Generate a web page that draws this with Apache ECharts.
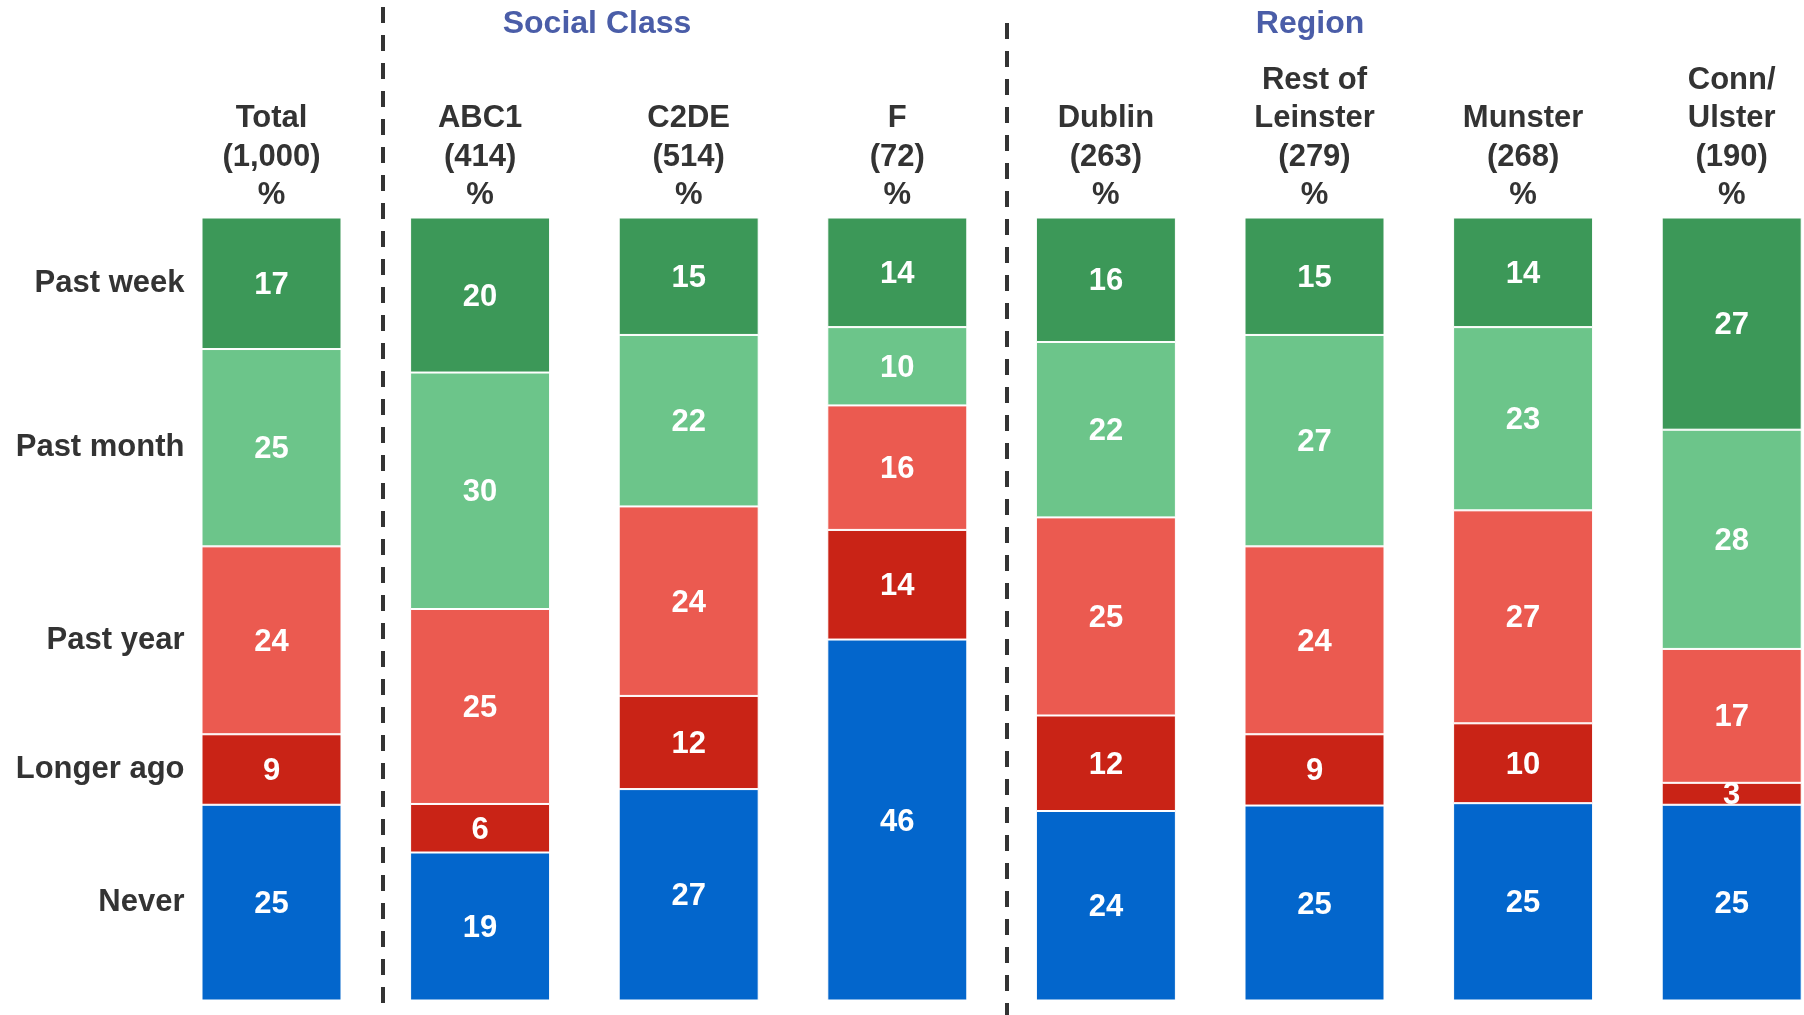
<!DOCTYPE html>
<html>
<head>
<meta charset="utf-8">
<script src="https://cdn.jsdelivr.net/npm/echarts@6/dist/echarts.min.js"></script>
<style>
html,body{margin:0;padding:0;background:#fff;}
#chart{width:1804px;height:1015px;}
</style>
</head>
<body>
<div id="chart"></div>
<script>
// ---- data ----
const groupNames = ['Total', 'ABC1', 'C2DE', 'F', 'Dublin', 'Rest of\nLeinster', 'Munster', 'Conn/\nUlster'];
const baseSizes = ['1,000', '414', '514', '72', '263', '279', '268', '190'];
const seriesNames = ['Never', 'Longer ago', 'Past year', 'Past month', 'Past week'];
const never      = [25.0, 18.9, 27.0, 46.1, 24.2, 24.9, 25.2, 25.0];
const longerAgo  = [9.0, 6.2, 11.9, 14.0, 12.2, 9.1, 10.2, 2.8];
const pastYear   = [24.0, 24.9, 24.2, 15.9, 25.3, 24.0, 27.2, 17.1];
const pastMonth  = [25.2, 30.2, 21.9, 10.0, 22.4, 27.0, 23.4, 28.0];
const pastWeek   = [16.8, 19.8, 15.0, 14.0, 15.9, 15.0, 14.0, 27.1];
const groupTitles = ['Social Class', 'Region'];

const values = [never, longerAgo, pastYear, pastMonth, pastWeek];
const colors = ['#0366CC', '#C92316', '#EB5A50', '#6CC58A', '#3C9858'];
const FONT = '"Liberation Sans", Arial, sans-serif';
const categories = groupNames.map((n, i) => n + '\n(' + baseSizes[i] + ')\n%');

const chart = echarts.init(document.getElementById('chart'));

const series = [];
values.forEach((arr, k) => {
  series.push({
    name: seriesNames[k],
    type: 'bar',
    stack: 'main',
    barWidth: 140,
    barGap: '-100%',
    data: arr,
    itemStyle: { color: colors[k], borderColor: '#ffffff', borderWidth: 1 },
    label: {
      show: true,
      position: 'inside',
      offset: [0, 2],
      color: '#ffffff',
      fontFamily: FONT,
      fontWeight: 'bold',
      fontSize: 31,
      formatter: p => Math.round(p.value)
    },
    emphasis: { disabled: true },
    animation: false
  });
});
// row labels on the left of the first column (transparent overlay stack)
values.forEach((arr, k) => {
  series.push({
    name: seriesNames[k] + ' label',
    type: 'bar',
    stack: 'rowlabels',
    barWidth: 140,
    barGap: '-100%',
    data: arr.map((v, i) => i === 0 ? v : '-'),
    itemStyle: { color: 'rgba(0,0,0,0)' },
    label: {
      show: true,
      position: 'left',
      distance: 17,
      color: '#333333',
      fontFamily: FONT,
      fontWeight: 'bold',
      fontSize: 31,
      formatter: () => seriesNames[k]
    },
    silent: true,
    z: 1,
    animation: false
  });
});

chart.setOption({
  animation: false,
  grid: { left: 167.2, top: 217.5, width: 1668.8, height: 783, outerBoundsMode: 'none', containLabel: false },
  title: [
    { text: groupTitles[0], left: 592, top: 3, textAlign: 'center',
      textStyle: { color: '#4A5DA8', fontFamily: FONT, fontWeight: 'bold', fontSize: 32 } },
    { text: groupTitles[1], left: 1305, top: 3, textAlign: 'center',
      textStyle: { color: '#4A5DA8', fontFamily: FONT, fontWeight: 'bold', fontSize: 32 } }
  ],
  xAxis: {
    type: 'category',
    position: 'top',
    data: categories,
    axisLine: { show: false },
    axisTick: { show: false },
    axisLabel: {
      interval: 0,
      margin: 2.5,
      color: '#333333',
      fontFamily: FONT,
      fontWeight: 'bold',
      fontSize: 31,
      lineHeight: 38.5,
      align: 'center'
    }
  },
  yAxis: {
    type: 'value',
    min: 0,
    max: 100,
    show: false,
    splitLine: { show: false }
  },
  graphic: [
    { type: 'line', shape: { x1: 383, y1: 7, x2: 383, y2: 1015 },
      style: { stroke: '#333333', lineWidth: 4, lineDash: [16, 12] }, silent: true },
    { type: 'line', shape: { x1: 1007, y1: 23, x2: 1007, y2: 1015 },
      style: { stroke: '#333333', lineWidth: 4, lineDash: [16, 12] }, silent: true }
  ],
  series: series
});
</script>
</body>
</html>
